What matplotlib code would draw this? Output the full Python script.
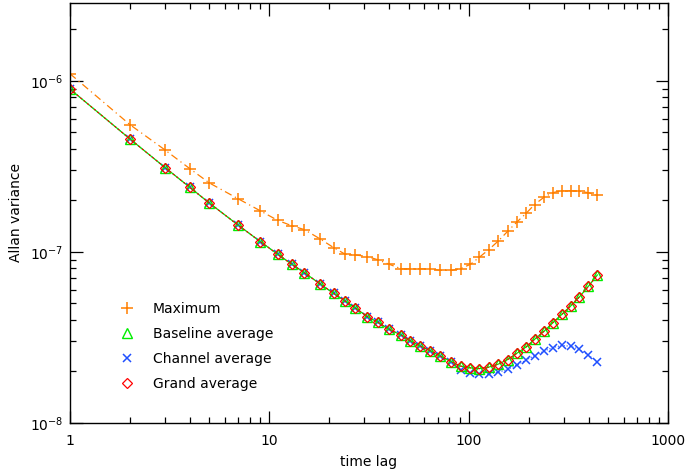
import matplotlib
matplotlib.use("Agg")
import matplotlib.pyplot as plt
from matplotlib.lines import Line2D
from matplotlib.ticker import LogLocator, NullFormatter

lags = [1, 2, 3, 4, 5, 7, 9, 11, 13, 15, 18, 21, 24, 27, 31, 35, 40, 46, 51, 57,
        64, 72, 82, 91, 102, 113, 126, 141, 157, 174, 194, 214, 239, 264, 293,
        325, 359, 399, 442]

maximum = [1.10e-6, 5.54e-7, 3.94e-7, 3.06e-7, 2.53e-7, 2.04e-7, 1.74e-7, 1.53e-7,
           1.42e-7, 1.35e-7, 1.19e-7, 1.06e-7, 9.7e-8, 9.6e-8, 9.4e-8, 9.0e-8,
           8.46e-8, 7.96e-8, 7.96e-8, 7.96e-8, 7.96e-8, 7.8e-8, 7.8e-8, 7.98e-8,
           8.46e-8, 9.3e-8, 1.03e-7, 1.16e-7, 1.32e-7, 1.49e-7, 1.68e-7, 1.89e-7,
           2.09e-7, 2.22e-7, 2.28e-7, 2.28e-7, 2.26e-7, 2.22e-7, 2.14e-7]

baseline_avg = [8.95e-7, 4.57e-7, 3.11e-7, 2.38e-7, 1.93e-7, 1.43e-7, 1.15e-7, 9.7e-8,
                8.45e-8, 7.56e-8, 6.49e-8, 5.73e-8, 5.16e-8, 4.70e-8, 4.19e-8, 3.88e-8,
                3.52e-8, 3.26e-8, 3.02e-8, 2.82e-8, 2.65e-8, 2.46e-8, 2.28e-8, 2.15e-8,
                2.10e-8, 2.08e-8, 2.12e-8, 2.21e-8, 2.35e-8, 2.55e-8, 2.78e-8, 3.08e-8,
                3.44e-8, 3.85e-8, 4.31e-8, 4.83e-8, 5.45e-8, 6.3e-8, 7.33e-8]

channel_avg = [8.95e-7, 4.57e-7, 3.11e-7, 2.38e-7, 1.93e-7, 1.43e-7, 1.15e-7, 9.7e-8,
               8.45e-8, 7.56e-8, 6.49e-8, 5.73e-8, 5.16e-8, 4.70e-8, 4.19e-8, 3.88e-8,
               3.52e-8, 3.26e-8, 3.02e-8, 2.82e-8, 2.65e-8, 2.46e-8, 2.28e-8, 2.05e-8,
               1.97e-8, 1.93e-8, 1.93e-8, 1.98e-8, 2.06e-8, 2.18e-8, 2.33e-8, 2.48e-8,
               2.63e-8, 2.76e-8, 2.84e-8, 2.81e-8, 2.69e-8, 2.49e-8, 2.28e-8]

grand_avg = [8.95e-7, 4.57e-7, 3.11e-7, 2.38e-7, 1.93e-7, 1.43e-7, 1.15e-7, 9.7e-8,
             8.45e-8, 7.56e-8, 6.49e-8, 5.73e-8, 5.16e-8, 4.70e-8, 4.19e-8, 3.88e-8,
             3.52e-8, 3.26e-8, 3.02e-8, 2.82e-8, 2.65e-8, 2.46e-8, 2.28e-8, 2.15e-8,
             2.10e-8, 2.08e-8, 2.12e-8, 2.21e-8, 2.35e-8, 2.55e-8, 2.78e-8, 3.08e-8,
             3.44e-8, 3.85e-8, 4.31e-8, 4.83e-8, 5.45e-8, 6.3e-8, 7.33e-8]

labels = ["Maximum", "Baseline average", "Channel average", "Grand average"]

ORANGE = "#ff7f00"
GREEN = "#00ee00"
BLUE = "#1f4fff"
RED = "#ff0000"

plt.rcParams["font.family"] = "DejaVu Sans"
fs = 10

W, H = 688, 474
L, R, B, T = 70, 668, 423, 3

fig = plt.figure(figsize=(W / 100, H / 100), dpi=100)
ax = fig.add_axes([L / W, (H - B) / H, (R - L) / W, (B - T) / H])

ax.plot(lags, maximum, color=ORANGE, lw=0.9, ls=(0, (6, 3, 1, 3)),
        marker="+", ms=8, mew=1.1)
ax.plot(lags, channel_avg, color=BLUE, lw=0.8, ls=":",
        marker="x", ms=6, mew=1.1)
ax.plot(lags, baseline_avg, color=GREEN, lw=0.9, ls="-",
        marker="^", ms=7, mew=1.0, mfc="none")
ax.plot(lags, grand_avg, color=RED, lw=0.8, ls=(0, (2, 2)),
        marker="D", ms=5, mew=0.9, mfc="none")

ax.set_xscale("log")
ax.set_yscale("log")
ax.set_xlim(1, 1000)
ax.set_ylim(1e-8, 2.85e-6)

ax.xaxis.set_minor_locator(LogLocator(base=10, subs=range(2, 10), numticks=20))
ax.xaxis.set_minor_formatter(NullFormatter())
ax.yaxis.set_minor_formatter(NullFormatter())
ax.set_xticks([1, 10, 100, 1000])
ax.set_xticklabels(["1", "10", "100", "1000"])

ax.tick_params(which="both", direction="in", top=True, right=True,
               labelsize=fs, colors="black", width=0.9)
ax.tick_params(which="major", length=9)
ax.tick_params(axis="x", which="major", pad=8)
ax.tick_params(axis="y", which="major", pad=5)
ax.tick_params(which="minor", length=4.5)
for sp in ax.spines.values():
    sp.set_linewidth(1.0)

ax.set_xlabel("time lag", fontsize=fs, labelpad=5)
ax.set_ylabel("Allan variance", fontsize=fs)
ax.yaxis.set_label_coords(-(L - 16) / (R - L), 0.5)
ax.yaxis.label.set_va("center")

handles = [
    Line2D([], [], ls="none", color=ORANGE, marker="+", ms=8, mew=1.1),
    Line2D([], [], ls="none", color=GREEN, marker="^", ms=7, mew=1.0, mfc="none"),
    Line2D([], [], ls="none", color=BLUE, marker="x", ms=6, mew=1.1),
    Line2D([], [], ls="none", color=RED, marker="D", ms=5, mew=0.9, mfc="none"),
]
ax.legend(handles, labels, loc="upper left",
          bbox_to_anchor=(44 / (R - L), (B - 296) / (B - T)), frameon=False,
          fontsize=fs, numpoints=1, handlelength=1.0, handletextpad=1.4,
          labelspacing=0.8, borderaxespad=0)

fig.savefig("out.png", dpi=100)
